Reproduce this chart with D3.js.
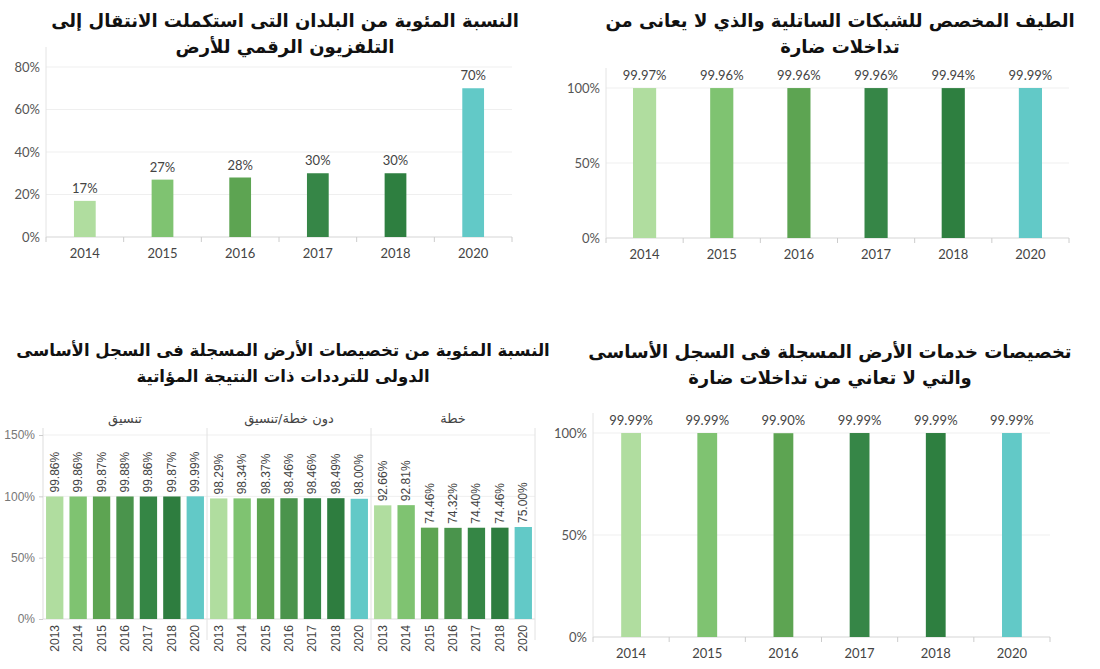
<!DOCTYPE html>
<html>
<head>
<meta charset="utf-8">
<script src="https://cdn.jsdelivr.net/npm/d3@7"></script>
<style>
  body { margin: 0; background: #fff; }
  .title { font-family: "DejaVu Sans", sans-serif; font-weight: bold; fill: #111; }
  .tick text { font-family: Lato, "Open Sans", sans-serif; fill: #555; }
</style>
</head>
<body>
<svg width="1100" height="669"></svg>
<script>
// --- data ---
const years6 = ['2014', '2015', '2016', '2017', '2018', '2020']
const years7 = ['2013', '2014', '2015', '2016', '2017', '2018', '2020']

const digitalTv = [0.17, 0.27, 0.28, 0.30, 0.30, 0.70]
const satSpectrum = [0.9997, 0.9996, 0.9996, 0.9996, 0.9994, 0.9999]
const terrestrial = [0.9999, 0.9999, 0.9990, 0.9999, 0.9999, 0.9999]

const groups = ['تنسيق', 'دون خطة/تنسيق', 'خطة']
const coordination = [0.9986, 0.9986, 0.9987, 0.9988, 0.9986, 0.9987, 0.9999]
const noPlan = [0.9829, 0.9834, 0.9837, 0.9846, 0.9846, 0.9849, 0.9800]
const plan = [0.9266, 0.9281, 0.7446, 0.7432, 0.7440, 0.7446, 0.7500]

const titles = [
  ['النسبة المئوية من البلدان التى استكملت الانتقال إلى', 'التلفزيون الرقمي للأرض'],
  ['الطيف المخصص للشبكات الساتلية والذي لا يعانى من', 'تداخلات ضارة'],
  ['النسبة المئوية من تخصيصات الأرض المسجلة فى السجل الأساسى', 'الدولى للترددات ذات النتيجة المؤاتية'],
  ['تخصيصات خدمات الأرض المسجلة فى السجل الأساسى', 'والتي لا تعاني من تداخلات ضارة']
]

const colors6 = ['#b0dd9f', '#7fc371', '#5da452', '#368647', '#2e7f40', '#62c9c7']
const colors7 = ['#b0dd9f', '#7fc371', '#5da452', '#4a944c', '#358645', '#2e7d3f', '#62c9c7']

const svg = d3.select('svg')

function drawTitle(lines, cx, y, size) {
  lines.forEach((s, i) => {
    svg.append('text').attr('class', 'title')
      .attr('x', cx).attr('y', y + i * 26)
      .attr('text-anchor', 'middle')
      .attr('direction', 'rtl')
      .style('font-size', size + 'px')
      .text(s)
  })
}

// simple six-year bar panel
function simplePanel(opt) {
  const g = svg.append('g')
  const x = d3.scaleBand().domain(years6).range(opt.xr).paddingInner(opt.pad).paddingOuter(opt.pad / 2)
  const y = d3.scaleLinear().domain([0, opt.max]).range(opt.yr)

  // gridlines
  g.selectAll('line.grid').data(opt.ticks).join('line')
    .attr('x1', opt.xr[0]).attr('x2', opt.xr[1])
    .attr('y1', d => y(d)).attr('y2', d => y(d))
    .attr('stroke', '#efefef')

  const ya = g.append('g').attr('transform', `translate(${opt.xr[0]},0)`)
    .call(d3.axisLeft(y).tickValues(opt.ticks).tickFormat(d3.format('.0%')).tickSize(0).tickPadding(6))
  ya.select('.domain').attr('stroke', '#e4e4e4').attr('d', `M0,${opt.yr[1] - 20}V${opt.yr[0]}`)
  ya.selectAll('.tick text').style('font-size', '13px')

  // baseline with band-edge ticks
  g.append('line').attr('x1', opt.xr[0]).attr('x2', opt.xr[1])
    .attr('y1', opt.yr[0]).attr('y2', opt.yr[0]).attr('stroke', '#ddd')
  const edges = years6.map(d => x(d) - x.step() * x.paddingInner() / 2).concat([opt.xr[1]])
  g.selectAll('line.edge').data(edges).join('line')
    .attr('x1', d => d).attr('x2', d => d)
    .attr('y1', opt.yr[0]).attr('y2', opt.yr[0] + 5).attr('stroke', '#ccc')

  g.selectAll('text.year').data(years6).join('text')
    .attr('x', d => x(d) + x.bandwidth() / 2).attr('y', opt.yr[0] + 21)
    .attr('text-anchor', 'middle')
    .style('font-family', 'Lato, sans-serif').style('font-size', '13px').style('fill', '#444')
    .text(d => d)

  g.selectAll('rect').data(opt.values).join('rect')
    .attr('x', (d, i) => x(years6[i])).attr('width', x.bandwidth())
    .attr('y', d => y(d)).attr('height', d => y(0) - y(d))
    .attr('fill', (d, i) => colors6[i])

  g.selectAll('text.val').data(opt.values).join('text')
    .attr('x', (d, i) => x(years6[i]) + x.bandwidth() / 2)
    .attr('y', d => y(d) - 8)
    .attr('text-anchor', 'middle')
    .style('font-family', 'Lato, sans-serif').style('font-size', '13px').style('fill', '#444')
    .text(d => d3.format(opt.fmt)(d))
}

simplePanel({ xr: [46, 512], yr: [237, 67], max: 0.8, ticks: [0, 0.2, 0.4, 0.6, 0.8], pad: 0.72, values: digitalTv, fmt: '.0%' })
simplePanel({ xr: [606, 1069], yr: [238, 88], max: 1, ticks: [0, 0.5, 1], pad: 0.7, values: satSpectrum, fmt: '.2%' })
simplePanel({ xr: [593, 1050], yr: [637, 433], max: 1, ticks: [0, 0.5, 1], pad: 0.74, values: terrestrial, fmt: '.2%' })

// grouped panel (bottom-left)
function groupedPanel() {
  const g = svg.append('g')
  const gx = d3.scaleBand().domain(groups).range([43, 535])
  const y = d3.scaleLinear().domain([0, 1.5]).range([619, 435])
  const series = [coordination, noPlan, plan]
  const ticks = [0, 0.5, 1, 1.5]

  g.selectAll('line.grid').data(ticks.slice(1)).join('line')
    .attr('x1', 43).attr('x2', 535)
    .attr('y1', d => y(d)).attr('y2', d => y(d))
    .attr('stroke', '#efefef')

  const ya = g.append('g').attr('transform', 'translate(43,0)')
    .call(d3.axisLeft(y).tickValues(ticks).tickFormat(d3.format('.0%')).tickSize(4).tickPadding(4))
  ya.select('.domain').attr('stroke', '#ddd').attr('d', 'M0,428V619')
  ya.selectAll('.tick line').attr('stroke', '#ccc')
  ya.selectAll('.tick text').style('font-family', '"Liberation Sans", Arial, sans-serif').style('font-size', '12px').style('fill', '#777')

  g.append('line').attr('x1', 43).attr('x2', 535).attr('y1', 619).attr('y2', 619).attr('stroke', '#ddd')

  // group separators
  g.selectAll('line.sep').data(groups.slice(1).map(d => gx(d)).concat([535])).join('line')
    .attr('x1', d => d).attr('x2', d => d).attr('y1', 428).attr('y2', 640)
    .attr('stroke', '#e2e2e2')

  g.selectAll('text.grp').data(groups).join('text')
    .attr('x', d => gx(d) + gx.bandwidth() / 2).attr('y', 423)
    .attr('text-anchor', 'middle').attr('direction', 'rtl')
    .style('font-family', '"DejaVu Sans", sans-serif').style('font-size', '13px').style('fill', '#444')
    .text(d => d)

  groups.forEach((grp, gi) => {
    const x = d3.scaleBand().domain(years7).range([gx(grp), gx(grp) + gx.bandwidth()]).paddingInner(0.26).paddingOuter(0.13)
    const vals = series[gi]
    const sub = g.append('g')
    sub.selectAll('rect').data(vals).join('rect')
      .attr('x', (d, i) => x(years7[i])).attr('width', x.bandwidth())
      .attr('y', d => y(d)).attr('height', d => y(0) - y(d))
      .attr('fill', (d, i) => colors7[i])
    sub.selectAll('text.val').data(vals).join('text')
      .attr('transform', (d, i) => `translate(${x(years7[i]) + x.bandwidth() / 2 + 4},${y(d) - 4}) rotate(-90)`)
      .style('font-family', '"Liberation Sans", Arial, sans-serif').style('font-size', '12px').style('fill', '#444')
      .text(d => d3.format('.2f')(d * 100) + '%')
    sub.selectAll('text.year').data(years7).join('text')
      .attr('transform', d => `translate(${x(d) + x.bandwidth() / 2 + 4},${625}) rotate(-90)`)
      .attr('text-anchor', 'end')
      .style('font-family', '"Liberation Sans", Arial, sans-serif').style('font-size', '12px').style('fill', '#444')
      .text(d => d)
  })
}
groupedPanel()

drawTitle(titles[0], 285, 27, 18)
drawTitle(titles[1], 840, 27, 18)
drawTitle(titles[2], 283, 356, 16.5)
drawTitle(titles[3], 830, 358, 18)
</script>
</body>
</html>
